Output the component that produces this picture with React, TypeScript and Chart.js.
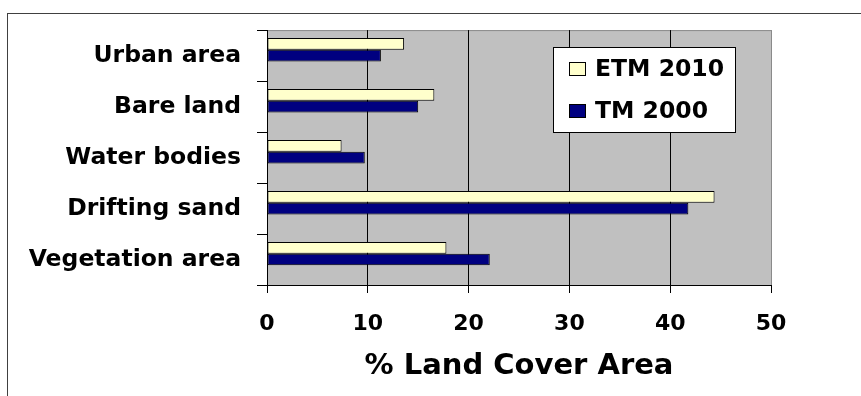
import React, { useEffect, useRef } from "react";
import { Chart, registerables } from "chart.js";

Chart.register(...registerables);

const categories = ["Urban area", "Bare land", "Water bodies", "Drifting sand", "Vegetation area"];
const etm2010 = [13.6, 16.6, 7.4, 44.4, 17.8];
const tm2000 = [11.3, 15.0, 9.7, 41.8, 22.1];
const xTicks = [0, 10, 20, 30, 40, 50];
const seriesLabels = ["ETM 2010", "TM 2000"];
const seriesColors = ["#FFFFCC", "#000080"];
const axisTitle = "% Land Cover Area";

const FONT = "'DejaVu Sans', sans-serif";

const plotBgPlugin = {
  id: "plotBg",
  beforeDraw(chart: any) {
    const { ctx, chartArea } = chart;
    const { left, top, right, bottom } = chartArea;
    ctx.save();
    ctx.fillStyle = "#C0C0C0";
    ctx.fillRect(left, top, right - left, bottom - top);
    ctx.strokeStyle = "#8a8a8a";
    ctx.lineWidth = 1;
    ctx.beginPath();
    ctx.moveTo(left, top + 0.5);
    ctx.lineTo(right + 0.5, top + 0.5);
    ctx.lineTo(right + 0.5, bottom);
    ctx.stroke();
    ctx.restore();
  },
};

const legendBoxPlugin = {
  id: "legendBox",
  afterDraw(chart: any) {
    const { ctx } = chart;
    const x = 553.5, y = 47.5, w = 182, h = 85;
    ctx.save();
    ctx.fillStyle = "#ffffff";
    ctx.fillRect(x, y, w, h);
    ctx.strokeStyle = "#000";
    ctx.lineWidth = 1;
    ctx.strokeRect(x, y, w, h);
    const rows = chart.data.datasets.filter((d: any) => d.label);
    const baselines = [76, 118];
    rows.forEach((d: any, i: number) => {
      const by = baselines[i];
      ctx.fillStyle = d.backgroundColor;
      ctx.fillRect(569.5, by - 13.5, 16, 13);
      ctx.strokeStyle = "#000";
      ctx.strokeRect(569.5, by - 13.5, 16, 13);
      ctx.fillStyle = "#000";
      ctx.font = `bold 23.5px ${FONT}`;
      ctx.textBaseline = "alphabetic";
      ctx.textAlign = "left";
      ctx.fillText(d.label, 595, by);
    });
    ctx.restore();
  },
};

export default function App() {
  const ref = useRef<HTMLCanvasElement | null>(null);
  useEffect(() => {
    if (!ref.current) return;
    const chart = new Chart(ref.current, {
      type: "bar",
      data: {
        labels: categories,
        datasets: [
          {
            label: seriesLabels[0],
            data: etm2010,
            backgroundColor: seriesColors[0],
            borderColor: "#000",
            borderWidth: 1,
            borderSkipped: false,
          },
          {
            label: seriesLabels[1],
            data: tm2000,
            backgroundColor: seriesColors[1],
            borderColor: "#000",
            borderWidth: 1,
            borderSkipped: false,
          },
          {
            label: "",
            data: categories.map(() => null),
            backgroundColor: "rgba(0,0,0,0)",
            borderWidth: 0,
          },
        ],
      },
      options: {
        indexAxis: "y",
        responsive: false,
        animation: false,
        devicePixelRatio: 1,
        datasets: { bar: { categoryPercentage: 0.69, barPercentage: 1 } },
        layout: { padding: { top: 28, right: 90, bottom: 12, left: 0 } },
        plugins: {
          legend: { display: false },
          tooltip: { enabled: false },
        },
        scales: {
          y: {
            type: "category",
            position: "left",
            grid: {
              drawOnChartArea: false,
              drawTicks: true,
              tickLength: 10,
              color: "#000",
              offset: true,
            },
            border: { color: "#000", width: 1 },
            ticks: {
              color: "#000",
              padding: 16,
              font: { family: FONT, size: 23.5, weight: "bold" },
            },
            afterFit: (s: any) => {
              s.width = 267;
            },
          },
          x: {
            type: "linear",
            min: 0,
            max: 50,
            afterBuildTicks: (s: any) => {
              s.ticks = xTicks.map((v) => ({ value: v }));
            },
            grid: {
              color: (c: any) => (c.tick && c.tick.value === 50 ? "#8a8a8a" : "#000"),
              tickColor: "#000",
              tickLength: 8,
              lineWidth: 1,
            },
            border: { color: "#000", width: 1 },
            ticks: {
              color: "#000",
              padding: 18,
              font: { family: FONT, size: 22, weight: "bold" },
            },
            title: {
              display: true,
              text: axisTitle,
              color: "#000",
              padding: 0,
              font: { family: FONT, size: 29, weight: "bold" },
            },
            afterFit: (s: any) => {
              s.height = 99;
            },
          },
        },
      },
      plugins: [plotBgPlugin, legendBoxPlugin],
    } as any);
    return () => chart.destroy();
  }, []);

  return (
    <div
      style={{
        position: "fixed",
        left: 0,
        top: 0,
        width: 861,
        height: 396,
        overflow: "hidden",
        background: "#fff",
      }}
    >
      <div
        style={{
          position: "absolute",
          left: 7,
          top: 13,
          width: 1000,
          height: 1000,
          borderLeft: "1px solid #404040",
          borderTop: "1px solid #404040",
        }}
      />
      <canvas
        ref={ref}
        width={861}
        height={396}
        style={{ position: "absolute", left: 0, top: 0, width: 861, height: 396 }}
      />
    </div>
  );
}
